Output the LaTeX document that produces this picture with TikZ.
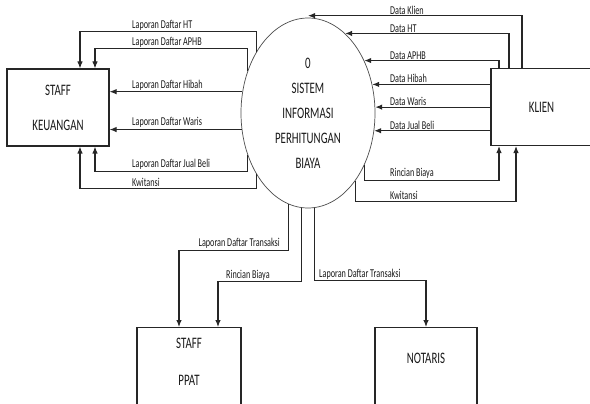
\documentclass[tikz,border=0pt]{standalone}
\usepackage{fontspec}
\setmainfont{Carlito}[FakeStretch=0.68]
\usetikzlibrary{arrows, arrows.meta, positioning, shapes.geometric}

\begin{document}
\begin{tikzpicture}[x=1pt, y=-1pt, >={Latex[length=7pt, width=5.5pt]},
    entity/.style={draw=black!85, line width=1.1pt, minimum width=102pt, minimum height=77pt,
        inner sep=0pt, align=center, text=black!90, font=\fontsize{16}{35}\selectfont},
    entitytext/.style={align=center, text=black!90, font=\fontsize{16}{37}\selectfont},
    process/.style={draw=black!70, ellipse, line width=0.7pt, minimum width=134pt,
        minimum height=190pt, inner sep=0pt, align=center, text=black!90,
        font=\fontsize{16}{25}\selectfont},
    flow/.style={->, draw=black!85, line width=1.1pt},
    lbl/.style={anchor=south west, inner sep=1pt, text=black!90, font=\fontsize{12}{13}\selectfont}]
    \useasboundingbox (0, 0) rectangle (590, 404);

    \node[process] (sys) at (308, 113) {0\\SISTEM\\INFORMASI\\PERHITUNGAN\\BIAYA};

    \node[entity] (keu) at (58, 107.5) {STAFF\\KEUANGAN};
    \node[entity, minimum width=101pt] (klien) at (541.5, 107) {KLIEN};
    \node[entity, anchor=north, minimum width=104pt, minimum height=100pt] (ppat) at (189, 327) {};
    \node[entitytext] (ppattext) at (189, 361.5) {STAFF\\PPAT};
    \node[entity, anchor=north, minimum height=100pt] (notaris) at (426, 327) {};
    \node[entitytext] (notaristext) at (426, 358) {NOTARIS};

    % sistem -> staff keuangan
    \draw[flow] (sys.130) -- ++(0, -20) -| ([xshift=22pt]keu.north);
    \draw[flow] (sys.145) -- ++(0, -22) -| ([xshift=37pt]keu.north);
    \draw[flow] (sys.162) -- (sys.162 -| keu.east);
    \draw[flow] (sys.194) -- (sys.194 -| keu.east);
    \draw[flow] (sys.215) -- ++(0, 16) -| ([xshift=37pt]keu.south);
    \draw[flow] (sys.230) -- ++(0, 14) -| ([xshift=22pt]keu.south);

    \node[lbl] (lblht) at (131, 31.5) {Laporan Daftar HT};
    \node[lbl] (lblaphb) at (131, 48.5) {Laporan Daftar APHB};
    \node[lbl] (lblhibah) at (131, 91.5) {Laporan Daftar Hibah};
    \node[lbl] (lblwaris) at (131, 128.5) {Laporan Daftar Waris};
    \node[lbl] (lbljual) at (131, 170.5) {Laporan Daftar Jual Beli};
    \node[lbl] (lblkwitansi) at (131, 187.5) {Kwitansi};

    % klien <-> sistem
    \draw[flow] ([xshift=-19.5pt]klien.north) |- ([yshift=2pt]sys.north);
    \draw[flow] ([xshift=-32.5pt]klien.north) |- (sys.65);
    \draw[flow] ([xshift=-42.5pt]klien.north) |- (sys.43);
    \draw[flow] (sys.24 -| klien.west) -- (sys.24);
    \draw[flow] (sys.5 -| klien.west) -- (sys.5);
    \draw[flow] (sys.345 -| klien.west) -- (sys.345);
    \draw[flow] (sys.317) -- ++(0, 15) -| ([xshift=-42.5pt]klien.south);
    \draw[flow] (sys.305) -- ++(0, 21) -| ([xshift=-25.5pt]klien.south);

    \node[lbl] (lbldklien) at (389, 15.5) {Data Klien};
    \node[lbl] (lbldht) at (389, 33.5) {Data HT};
    \node[lbl] (lbldaphb) at (389, 60.5) {Data APHB};
    \node[lbl] (lbldhibah) at (389, 83.5) {Data Hibah};
    \node[lbl] (lbldwaris) at (389, 106.5) {Data Waris};
    \node[lbl] (lbldjual) at (389, 130.5) {Data Jual Beli};
    \node[lbl] (lblrincian) at (389, 179.5) {Rincian Biaya};
    \node[lbl] (lblkwitansi2) at (389, 200.5) {Kwitansi};

    % sistem -> staff ppat, notaris
    \draw[flow] (sys.258) -- ++(0, 46) -| ([xshift=-10pt]ppat.north);
    \draw[flow] (sys.266) -- ++(0, 74) -| ([xshift=29pt]ppat.north);
    \draw[flow] (sys.274) -- ++(0, 73) -| (notaris.north);

    \node[lbl, anchor=south east] (lbltrans) at (281, 249.5) {Laporan Daftar Transaksi};
    \node[lbl] (lblrincian2) at (225, 281.5) {Rincian Biaya};
    \node[lbl] (lbltrans2) at (318, 280.5) {Laporan Daftar Transaksi};
\end{tikzpicture}
\end{document}
